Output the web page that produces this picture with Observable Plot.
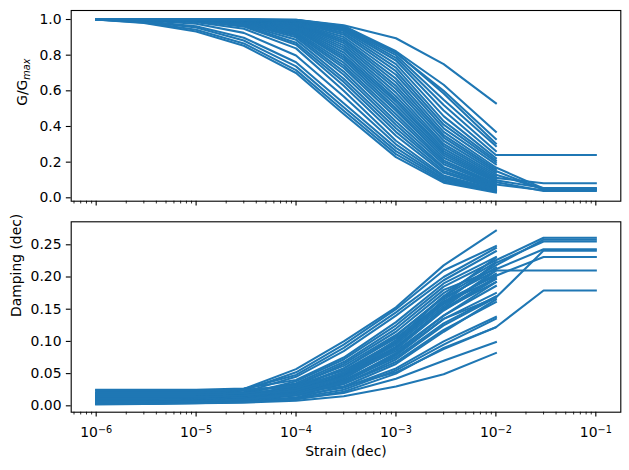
<!DOCTYPE html>
<html>
<head>
<meta charset="utf-8">
<script src="https://cdn.jsdelivr.net/npm/d3@7"></script>
<script src="https://cdn.jsdelivr.net/npm/@observablehq/plot@0.6"></script>
<style>
  html, body { margin: 0; padding: 0; background: #fff; }
  #chart { width: 629px; height: 470px; overflow: hidden; }
  #chart svg { display: block; }
</style>
</head>
<body>
<div id="chart"></div>
<script>
// Shear strain (decimal) at which the curves are tabulated
const STRAIN = [1e-6, 3e-6, 1e-5, 3e-5, 1e-4, 3e-4, 1e-3, 3e-3, 1e-2];
// Some curves continue to larger strains
const STRAIN_WIDE = [1e-6, 3e-6, 1e-5, 3e-5, 1e-4, 3e-4, 1e-3, 3e-3, 1e-2, 3e-2, 1e-1];

// Normalized shear modulus G/Gmax, one array per curve
const modulusCurves = [
  [1.000, 0.980, 0.933, 0.853, 0.700, 0.470, 0.228, 0.085, 0.030],
  [1.000, 0.984, 0.943, 0.866, 0.716, 0.488, 0.245, 0.092, 0.034],
  [1.000, 0.988, 0.955, 0.882, 0.737, 0.508, 0.262, 0.100, 0.038],
  [1.000, 0.990, 0.962, 0.898, 0.760, 0.530, 0.280, 0.108, 0.042],
  [1.000, 0.995, 0.976, 0.925, 0.798, 0.568, 0.300, 0.117, 0.040],
  [1.000, 0.997, 0.985, 0.948, 0.838, 0.600, 0.320, 0.125, 0.045],
  [1.000, 0.998, 0.990, 0.960, 0.858, 0.628, 0.348, 0.140, 0.050],
  [1.000, 0.998, 0.991, 0.966, 0.870, 0.650, 0.370, 0.150, 0.055],
  [1.000, 0.999, 0.993, 0.971, 0.886, 0.668, 0.390, 0.163, 0.060],
  [1.000, 0.999, 0.995, 0.976, 0.900, 0.690, 0.410, 0.172, 0.065],
  [1.000, 1.000, 0.996, 0.980, 0.910, 0.708, 0.428, 0.188, 0.070],
  [1.000, 1.000, 0.997, 0.982, 0.918, 0.728, 0.450, 0.200, 0.075, 0.042, 0.042],
  [1.000, 1.000, 0.997, 0.985, 0.925, 0.742, 0.468, 0.210, 0.080],
  [1.000, 1.000, 0.998, 0.987, 0.932, 0.758, 0.488, 0.225, 0.088, 0.038, 0.038],
  [1.000, 1.000, 0.998, 0.989, 0.940, 0.775, 0.502, 0.238, 0.092],
  [1.000, 1.000, 0.998, 0.990, 0.945, 0.788, 0.520, 0.250, 0.098, 0.055, 0.055],
  [1.000, 1.000, 0.999, 0.992, 0.950, 0.800, 0.538, 0.262, 0.105],
  [1.000, 1.000, 0.999, 0.993, 0.955, 0.815, 0.552, 0.275, 0.112, 0.082, 0.082],
  [1.000, 1.000, 0.999, 0.994, 0.960, 0.830, 0.570, 0.290, 0.120],
  [1.000, 1.000, 0.999, 0.995, 0.965, 0.842, 0.590, 0.302, 0.130, 0.050, 0.050],
  [1.000, 1.000, 1.000, 0.996, 0.970, 0.855, 0.610, 0.320, 0.140],
  [1.000, 1.000, 1.000, 0.996, 0.972, 0.868, 0.628, 0.338, 0.150, 0.046, 0.046],
  [1.000, 1.000, 1.000, 0.997, 0.975, 0.880, 0.648, 0.352, 0.160],
  [1.000, 1.000, 1.000, 0.997, 0.978, 0.890, 0.668, 0.370, 0.170, 0.052, 0.052],
  [1.000, 1.000, 1.000, 0.998, 0.981, 0.902, 0.690, 0.390, 0.188],
  [1.000, 1.000, 1.000, 0.998, 0.985, 0.915, 0.710, 0.410, 0.200],
  [1.000, 1.000, 1.000, 0.999, 0.988, 0.925, 0.730, 0.430, 0.210],
  [1.000, 1.000, 1.000, 0.999, 0.990, 0.935, 0.750, 0.458, 0.222],
  [1.000, 1.000, 1.000, 1.000, 0.991, 0.942, 0.770, 0.490, 0.240, 0.240, 0.240],
  [1.000, 1.000, 1.000, 1.000, 0.992, 0.948, 0.785, 0.520, 0.262],
  [1.000, 1.000, 1.000, 1.000, 0.994, 0.952, 0.800, 0.550, 0.290],
  [1.000, 1.000, 1.000, 1.000, 0.996, 0.958, 0.815, 0.585, 0.305],
  [1.000, 1.000, 1.000, 1.000, 0.997, 0.962, 0.812, 0.600, 0.330],
  [1.000, 1.000, 1.000, 1.000, 0.998, 0.964, 0.822, 0.634, 0.370],
  [1.000, 1.000, 1.000, 1.000, 0.999, 0.968, 0.895, 0.750, 0.530]
];

// Material damping ratio (decimal), one array per curve
const dampingCurves = [
  [0.012, 0.013, 0.016, 0.026, 0.057, 0.100, 0.153, 0.218, 0.272],
  [0.011, 0.012, 0.015, 0.024, 0.052, 0.095, 0.150, 0.210, 0.248],
  [0.020, 0.020, 0.021, 0.026, 0.048, 0.090, 0.145, 0.200, 0.245],
  [0.009, 0.010, 0.013, 0.021, 0.045, 0.085, 0.140, 0.195, 0.240],
  [0.025, 0.025, 0.025, 0.027, 0.040, 0.075, 0.130, 0.190, 0.231],
  [0.008, 0.009, 0.011, 0.018, 0.038, 0.072, 0.125, 0.185, 0.226, 0.261, 0.261],
  [0.014, 0.014, 0.015, 0.020, 0.035, 0.068, 0.120, 0.180, 0.212, 0.243, 0.243],
  [0.006, 0.007, 0.009, 0.015, 0.032, 0.065, 0.115, 0.175, 0.223],
  [0.016, 0.016, 0.017, 0.021, 0.033, 0.062, 0.110, 0.168, 0.210, 0.210, 0.210],
  [0.005, 0.006, 0.008, 0.013, 0.028, 0.058, 0.108, 0.170, 0.218, 0.258, 0.258],
  [0.012, 0.012, 0.013, 0.017, 0.030, 0.058, 0.105, 0.162, 0.202, 0.231, 0.231],
  [0.022, 0.022, 0.022, 0.024, 0.032, 0.055, 0.100, 0.160, 0.197],
  [0.007, 0.008, 0.009, 0.013, 0.025, 0.052, 0.098, 0.158, 0.205],
  [0.010, 0.010, 0.011, 0.014, 0.024, 0.048, 0.092, 0.150, 0.192],
  [0.004, 0.005, 0.007, 0.011, 0.022, 0.046, 0.090, 0.152, 0.210],
  [0.018, 0.018, 0.018, 0.020, 0.026, 0.045, 0.085, 0.140, 0.186],
  [0.009, 0.009, 0.010, 0.012, 0.020, 0.040, 0.080, 0.135, 0.175],
  [0.013, 0.013, 0.013, 0.015, 0.021, 0.038, 0.075, 0.128, 0.170],
  [0.006, 0.006, 0.007, 0.009, 0.016, 0.034, 0.072, 0.125, 0.168, 0.241, 0.241],
  [0.015, 0.015, 0.015, 0.016, 0.020, 0.034, 0.068, 0.118, 0.161],
  [0.003, 0.004, 0.005, 0.007, 0.013, 0.030, 0.065, 0.115, 0.165],
  [0.011, 0.011, 0.011, 0.012, 0.016, 0.028, 0.058, 0.100, 0.138],
  [0.005, 0.005, 0.006, 0.008, 0.012, 0.025, 0.055, 0.095, 0.135],
  [0.020, 0.020, 0.020, 0.020, 0.022, 0.030, 0.052, 0.088, 0.122, 0.179, 0.179],
  [0.008, 0.008, 0.008, 0.009, 0.011, 0.020, 0.042, 0.070, 0.099],
  [0.003, 0.003, 0.004, 0.005, 0.008, 0.015, 0.030, 0.049, 0.082],
  [0.010, 0.010, 0.011, 0.013, 0.022, 0.045, 0.098, 0.165, 0.215],
  [0.007, 0.007, 0.008, 0.011, 0.020, 0.042, 0.088, 0.150, 0.200],
  [0.017, 0.017, 0.017, 0.019, 0.027, 0.050, 0.102, 0.170, 0.230],
  [0.004, 0.004, 0.005, 0.008, 0.017, 0.038, 0.082, 0.140, 0.192],
  [0.024, 0.024, 0.024, 0.025, 0.030, 0.050, 0.095, 0.155, 0.210],
  [0.012, 0.012, 0.013, 0.016, 0.027, 0.052, 0.100, 0.160, 0.222, 0.255, 0.255],
  [0.006, 0.006, 0.007, 0.010, 0.018, 0.036, 0.078, 0.135, 0.168],
  [0.014, 0.014, 0.014, 0.016, 0.024, 0.044, 0.088, 0.148, 0.197],
  [0.002, 0.003, 0.004, 0.006, 0.010, 0.022, 0.050, 0.090, 0.122]
];

// Axis ticks
const xMajorTicks = [1e-6, 1e-5, 1e-4, 1e-3, 1e-2, 1e-1];
const modulusTicks = [0, 0.2, 0.4, 0.6, 0.8, 1.0];
const dampingTicks = [0, 0.05, 0.10, 0.15, 0.20, 0.25];

const BLUE = "#1f77b4";
const W = 629, ML = 70.7, MR = 8.7;
const X_DOMAIN = [10 ** -6.25, 10 ** -0.75];

// minor log ticks (2..9 × 10^k) inside the visible strain range
const xMinorTicks = [];
for (let e = -7; e <= -1; e++) {
  for (let k = 2; k <= 9; k++) {
    const v = k * 10 ** e;
    if (v >= X_DOMAIN[0] && v <= X_DOMAIN[1]) xMinorTicks.push(v);
  }
}

// long-format rows: one row per tabulated point
function toRows(curves) {
  return curves.flatMap((vals, i) => {
    const s = vals.length > STRAIN.length ? STRAIN_WIDE : STRAIN;
    return vals.map((v, j) => ({curve: i, strain: s[j], value: v}));
  });
}
const modulusRows = toRows(modulusCurves);
const dampingRows = toRows(dampingCurves);

const STYLE = {
  fontFamily: "'DejaVu Sans', sans-serif",
  fontSize: "13.9px",
  color: "black",
  background: "white",
  overflow: "visible"
};

const curveLine = (rows) => Plot.line(rows, {
  x: "strain", y: "value", z: "curve",
  stroke: BLUE, strokeWidth: 2.08,
  strokeLinejoin: "round", strokeLinecap: "square"
});

const sup = (d) => `10^${Math.round(Math.log10(d))}`;

// Upper panel: modulus reduction
const topPlot = Plot.plot({
  width: W, height: 211,
  marginLeft: ML, marginRight: MR, marginTop: 10, marginBottom: 10.3,
  style: STYLE,
  x: {type: "log", domain: X_DOMAIN, label: null},
  y: {domain: [-0.019, 1.0505], label: null},
  marks: [
    curveLine(modulusRows),
    Plot.axisX({ticks: xMinorTicks, tickSize: 2.78, tickFormat: () => "", strokeWidth: 0.83, label: null}),
    Plot.axisX({ticks: xMajorTicks, tickSize: 4.86, tickFormat: () => "", strokeWidth: 1.1, label: null}),
    Plot.axisY({ticks: modulusTicks, tickSize: 4.86, tickPadding: 4.86, tickFormat: d3.format(".1f"), strokeWidth: 1.1, label: null}),
    Plot.frame({stroke: "black", strokeWidth: 1.1}),
    Plot.text(["G/Gmax"], {frameAnchor: "left", rotate: -90, dx: -(ML - 22), text: (d) => d})
  ]
});

// Lower panel: damping
const bottomPlot = Plot.plot({
  width: W, height: 259,
  marginLeft: ML, marginRight: MR, marginTop: 10.3, marginBottom: 58.3,
  style: STYLE,
  x: {type: "log", domain: X_DOMAIN, label: null},
  y: {domain: [-0.0099, 0.2857], label: null},
  marks: [
    curveLine(dampingRows),
    Plot.axisX({ticks: xMinorTicks, tickSize: 2.78, tickFormat: () => "", strokeWidth: 0.83, label: null}),
    Plot.axisX({ticks: xMajorTicks, tickSize: 4.86, tickPadding: 10.5, tickFormat: sup, strokeWidth: 1.1, label: null}),
    Plot.axisY({ticks: dampingTicks, tickSize: 4.86, tickPadding: 4.86, tickFormat: d3.format(".2f"), strokeWidth: 1.1, label: null}),
    Plot.frame({stroke: "black", strokeWidth: 1.1}),
    Plot.text(["Damping (dec)"], {frameAnchor: "left", rotate: -90, dx: -(ML - 16), text: (d) => d}),
    Plot.text(["Strain (dec)"], {frameAnchor: "bottom", dy: 43.5, text: (d) => d})
  ]
});

const chart = document.getElementById("chart");
chart.append(topPlot, bottomPlot);

// "G/Gmax" with a subscripted, italic "max"
topPlot.querySelectorAll("text").forEach((t) => {
  if (t.textContent === "G/Gmax") {
    t.textContent = "G/G";
    const s = document.createElementNS("http://www.w3.org/2000/svg", "tspan");
    s.setAttribute("dy", "0.28em");
    s.setAttribute("font-size", "9.7px");
    s.setAttribute("font-style", "italic");
    s.textContent = "max";
    t.appendChild(s);
  }
});

// powers of ten as "10" with a raised exponent
bottomPlot.querySelectorAll("text").forEach((t) => {
  const m = /^10\^(-?\d+)$/.exec(t.textContent);
  if (!m) return;
  t.textContent = "";
  const base = document.createElementNS("http://www.w3.org/2000/svg", "tspan");
  base.textContent = "10";
  const ex = document.createElementNS("http://www.w3.org/2000/svg", "tspan");
  ex.setAttribute("dy", "-0.42em");
  ex.setAttribute("font-size", "9.7px");
  ex.textContent = m[1].replace("-", "\u2212");
  t.append(base, ex);
});
</script>
</body>
</html>
